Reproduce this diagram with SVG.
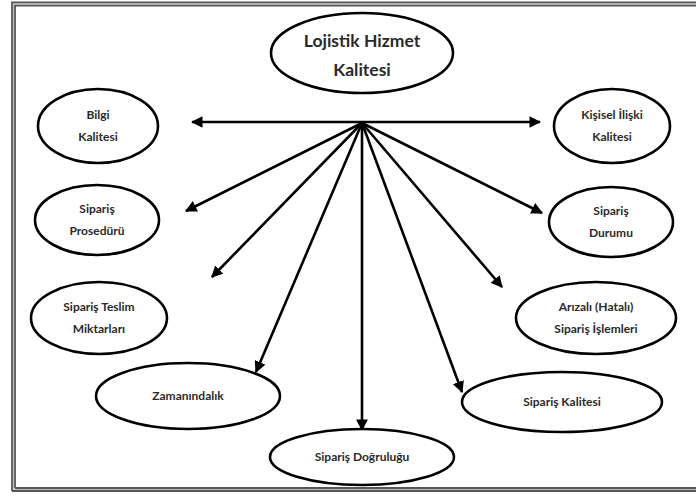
<svg xmlns="http://www.w3.org/2000/svg" width="696" height="499" viewBox="0 0 696 499">
<defs>
<style>
.node ellipse{fill:#fff;stroke:#000;stroke-width:2.6}
.node text{font-family:Lato,"Liberation Sans",sans-serif;font-weight:700;fill:#2a2a2a;text-anchor:middle}
.s{font-size:12px}
.big{font-size:17.5px}
.conn line{stroke:#000;stroke-width:2.6}
.frame{fill:none}
</style>
<marker id="ah" viewBox="0 0 10 10" refX="9" refY="5" markerWidth="4.5" markerHeight="4.5" orient="auto-start-reverse" markerUnits="strokeWidth">
<path d="M0,0 L10,5 L0,10 z" fill="#000"/>
</marker>
</defs>
<rect width="696" height="499" fill="#fff"/>
<g class="frame">
<path d="M12,491 V2.5 H700" stroke="#555" stroke-width="1.8"/>
<path d="M15,488 V5.5 H700" stroke="#555" stroke-width="1.8"/>
<path d="M13.5,489.5 V4 H700" stroke="#bbb" stroke-width="1.2"/>
<path d="M12,491 H700" stroke="#555" stroke-width="1.8"/>
<path d="M15,488 H700" stroke="#555" stroke-width="1.8"/>
<path d="M13.5,489.5 H700" stroke="#bbb" stroke-width="1.2"/>
</g>
<g class="conn">
<line x1="192" y1="122" x2="540" y2="122" marker-start="url(#ah)" marker-end="url(#ah)"/>
<line x1="362" y1="123" x2="186" y2="211" marker-end="url(#ah)"/>
<line x1="362" y1="123" x2="212" y2="277" marker-end="url(#ah)"/>
<line x1="362" y1="123" x2="256" y2="372" marker-end="url(#ah)"/>
<line x1="362" y1="123" x2="362" y2="430" marker-end="url(#ah)"/>
<line x1="362" y1="123" x2="462" y2="392" marker-end="url(#ah)"/>
<line x1="362" y1="123" x2="502" y2="287" marker-end="url(#ah)"/>
<line x1="362" y1="123" x2="542" y2="213" marker-end="url(#ah)"/>
</g>
<g class="node" id="n-center"><ellipse cx="362" cy="53" rx="91" ry="40"/><text class="big" x="362" y="47">Lojistik Hizmet</text><text class="big" x="362" y="76">Kalitesi</text></g>
<g class="node" id="n-bilgi"><ellipse cx="98" cy="126" rx="60" ry="37"/><text class="s" x="98" y="119">Bilgi</text><text class="s" x="98" y="141">Kalitesi</text></g>
<g class="node" id="n-kisisel"><ellipse cx="612" cy="126" rx="58" ry="37"/><text class="s" x="612" y="119">Kişisel İlişki</text><text class="s" x="612" y="141">Kalitesi</text></g>
<g class="node" id="n-prosedur"><ellipse cx="97" cy="220" rx="62" ry="35"/><text class="s" x="97" y="213">Sipariş</text><text class="s" x="97" y="235">Prosedürü</text></g>
<g class="node" id="n-durum"><ellipse cx="611" cy="222" rx="62" ry="35"/><text class="s" x="611" y="215">Sipariş</text><text class="s" x="611" y="237">Durumu</text></g>
<g class="node" id="n-teslim"><ellipse cx="99" cy="318" rx="68" ry="36"/><text class="s" x="99" y="311">Sipariş Teslim</text><text class="s" x="99" y="333">Miktarları</text></g>
<g class="node" id="n-arizali"><ellipse cx="596" cy="318" rx="80" ry="36"/><text class="s" x="596" y="311">Arızalı (Hatalı)</text><text class="s" x="596" y="333">Sipariş İşlemleri</text></g>
<g class="node" id="n-zaman"><ellipse cx="188" cy="396" rx="92" ry="33"/><text class="s" x="188" y="400">Zamanındalık</text></g>
<g class="node" id="n-kalite"><ellipse cx="562" cy="402" rx="100" ry="30"/><text class="s" x="562" y="406">Sipariş Kalitesi</text></g>
<g class="node" id="n-dogru"><ellipse cx="362" cy="457" rx="92" ry="28"/><text class="s" x="362" y="461">Sipariş Doğruluğu</text></g>
</svg>
